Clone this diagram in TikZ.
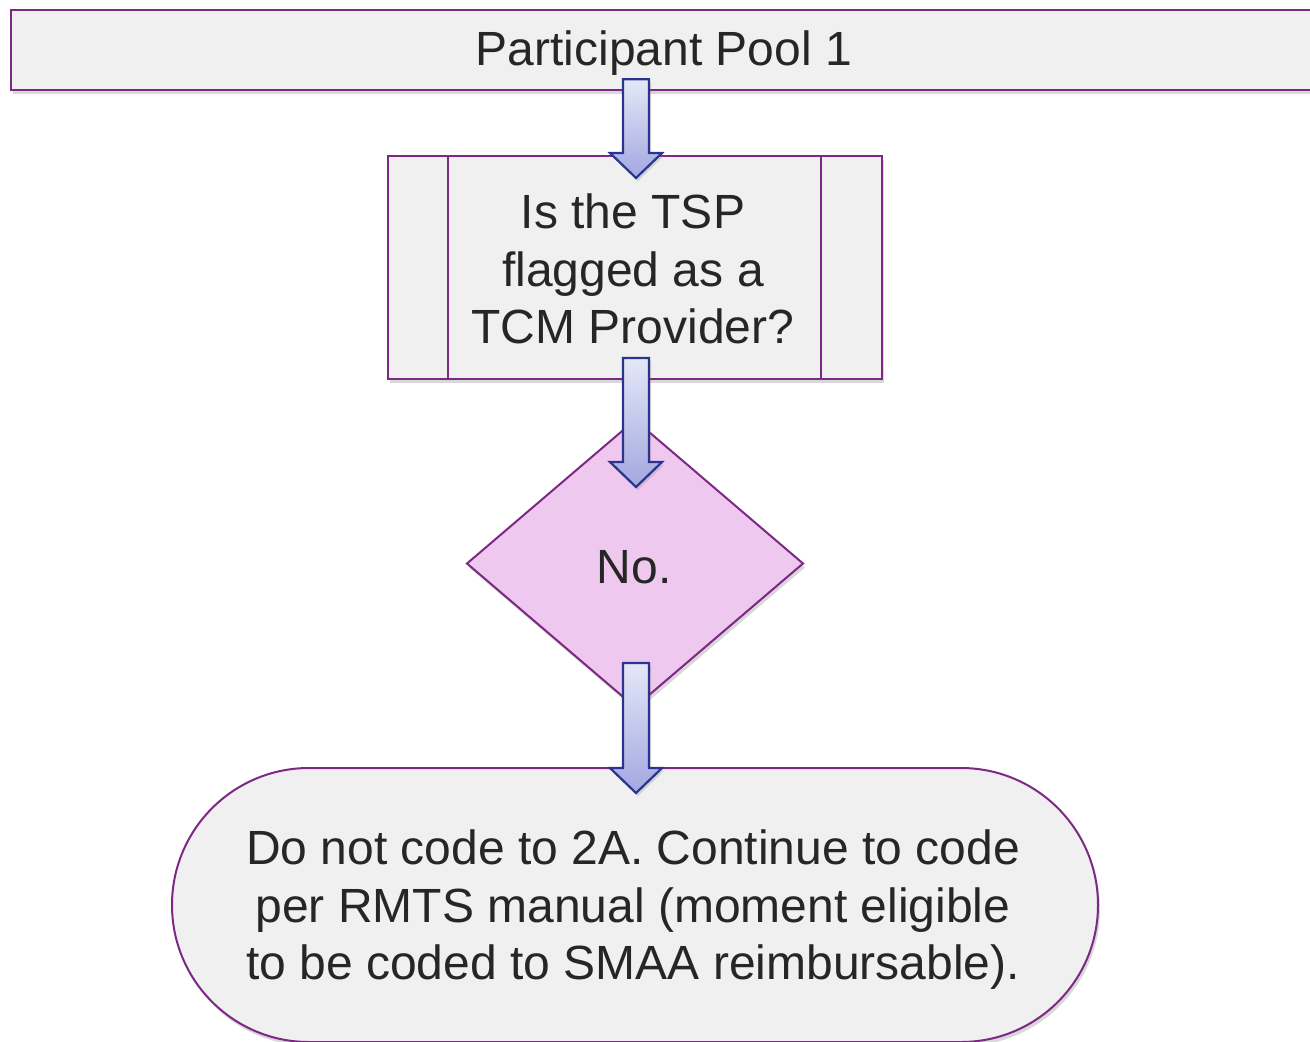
\documentclass[tikz,border=0pt]{standalone}
\usepackage{fontspec}
\setmainfont{Liberation Sans}
\usetikzlibrary{shapes.geometric,shadows,calc}
\definecolor{boxfill}{RGB}{240,240,240}
\definecolor{purp}{RGB}{125,40,132}
\definecolor{diafill}{RGB}{238,200,238}
\definecolor{txt}{RGB}{38,38,38}
\definecolor{arrline}{RGB}{42,52,142}
\definecolor{arrtop}{RGB}{228,232,247}
\definecolor{arrbot}{RGB}{162,167,224}
\newcommand{\blkarrow}[2]{%
  \path[blkarr] let \p1=(#1), \p2=(#2) in
    ({\x1-13pt},\y1) -- ({\x1+13pt},\y1) -- ({\x1+13pt},{\y2+25pt}) --
    ({\x1+26pt},{\y2+25pt}) -- (\x1,\y2) -- ({\x1-26pt},{\y2+25pt}) --
    ({\x1-13pt},{\y2+25pt}) -- cycle;}
\begin{document}
\begin{tikzpicture}[x=1pt,y=-1pt,
  shapebox/.style={draw=purp, line width=2pt, fill=boxfill, text=txt,
    font=\fontsize{48}{57.5}\selectfont, align=center, inner sep=0pt,
    drop shadow={shadow xshift=2pt, shadow yshift=-4pt, opacity=0.3}},
  purpline/.style={draw=purp, line width=2pt},
  lbl/.style={text=txt, font=\fontsize{48}{57.5}\selectfont, align=center, inner sep=0pt},
  blkarr/.style={draw=arrline, line width=2.2pt, line join=miter,
    top color=arrtop, bottom color=arrbot,
    drop shadow={shadow xshift=2pt, shadow yshift=-3pt, opacity=0.25}}]
\useasboundingbox (0,0) rectangle (1310,1042);
\clip (0,0) rectangle (1310,1042);
\fill[white] (0,0) rectangle (1310,1042);

% top pool bar
\node[shapebox, line width=2.5pt, minimum width=1305pt, minimum height=80pt]
  (pool) at (663.5,50) {};
\node[lbl] (poolt) at (664,53) {Participant Pool 1};

% predefined process
\node[shapebox, minimum width=494pt, minimum height=223pt]
  (proc) at (635,267.5) {};
\node[lbl] (proct) at (633,269) {Is the TSP\\flagged as a\\TCM Provider?};
\draw[purpline] ($(proc.north west)+(61,0)$) -- ($(proc.south west)+(61,0)$);
\draw[purpline] ($(proc.north east)+(-62,0)$) -- ($(proc.south east)+(-62,0)$);

% decision diamond
\coordinate (dtop) at (635,420);
\coordinate (dbot) at (635,707);
\coordinate (dlft) at (467,563.5);
\coordinate (drgt) at (803,563.5);
\draw[purp, line width=2pt, fill=diafill,
  drop shadow={shadow xshift=2pt, shadow yshift=-4pt, opacity=0.3}]
  (dtop) -- (drgt) -- (dbot) -- (dlft) -- cycle;
\node[lbl] (dec) at (634,567) {No.};

% terminator
\node[shapebox, rounded corners=137pt, minimum width=926pt, minimum height=274pt]
  (term) at (635,905) {};
\node[lbl] (termt) at (633,910) {Do not code to 2A. Continue to code\\per RMTS manual (moment eligible\\to be coded to SMAA reimbursable).};

% block arrows
\coordinate (a1s) at ($(proc.north |- pool.south)+(1,-12)$);
\coordinate (a1e) at ($(proc.north)+(1,23)$);
\coordinate (a2s) at ($(proc.south)+(1,-22)$);
\coordinate (a2e) at ($(dtop)+(1,67)$);
\coordinate (a3s) at ($(dbot)+(1,-44)$);
\coordinate (a3e) at ($(term.north)+(1,26)$);
\blkarrow{a1s}{a1e}
\blkarrow{a2s}{a2e}
\blkarrow{a3s}{a3e}
\end{tikzpicture}
\end{document}
